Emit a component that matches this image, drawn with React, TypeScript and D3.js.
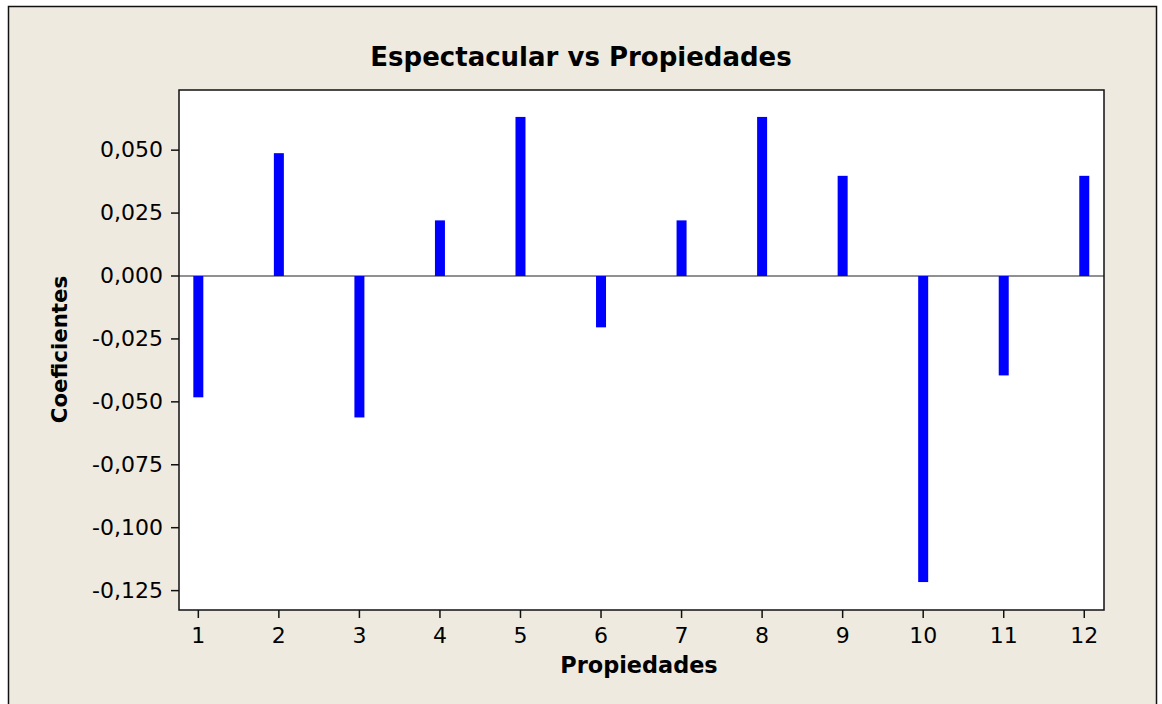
import React from "react";
import * as d3 from "d3";

const categories = [1, 2, 3, 4, 5, 6, 7, 8, 9, 10, 11, 12];
const coefficients = [-0.0482, 0.0488, -0.0562, 0.0221, 0.0632, -0.0204, 0.0221, 0.0632, 0.0398, -0.1216, -0.0395, 0.0398];
const yTicks = [0.05, 0.025, 0, -0.025, -0.05, -0.075, -0.1, -0.125];
const title = "Espectacular vs Propiedades";
const xTitle = "Propiedades";
const yTitle = "Coeficientes";

const W = 1162;
const H = 704;
const plot = { left: 179, top: 90, right: 1104, bottom: 610 };
const font = "'DejaVu Sans', Verdana, sans-serif";

export default function App() {
  const x = d3.scaleLinear().domain([0.76, 12.245]).range([plot.left, plot.right]);
  const y = d3.scaleLinear().domain([-0.1327, 0.0739]).range([plot.bottom, plot.top]);
  const fmt = (v: number) => d3.format(".3f")(v).replace(".", ",").replace("−", "-");
  const barW = 10;
  return (
    <svg width={W} height={H} style={{ position: "absolute", left: 0, top: 0 }} fontFamily={font}>
      <rect x={0} y={0} width={W} height={H} fill="#ffffff" />
      <rect x={8.5} y={6.5} width={1148} height={710} fill="#EEEAE0" stroke="#111" strokeWidth={1.5} />
      <rect x={plot.left} y={plot.top} width={plot.right - plot.left} height={plot.bottom - plot.top} fill="#ffffff" />
      <line x1={plot.left} x2={plot.right} y1={y(0)} y2={y(0)} stroke="#222" strokeWidth={1} />
      {categories.map((c, i) => {
        const v = coefficients[i];
        const y0 = y(Math.max(0, v));
        const y1 = y(Math.min(0, v));
        return <rect key={c} x={x(c) - barW / 2} y={y0} width={barW} height={y1 - y0} fill="#0000FF" />;
      })}
      <rect x={plot.left} y={plot.top} width={plot.right - plot.left} height={plot.bottom - plot.top} fill="none" stroke="#111" strokeWidth={1.5} />
      {yTicks.map((t) => (
        <g key={t}>
          <line x1={plot.left - 8} x2={plot.left} y1={y(t)} y2={y(t)} stroke="#111" strokeWidth={1.5} />
          <text x={plot.left - 16} y={y(t)} dy="0.32em" textAnchor="end" fontSize={22} fill="#000">
            {fmt(t)}
          </text>
        </g>
      ))}
      {categories.map((c) => (
        <g key={c}>
          <line x1={x(c)} x2={x(c)} y1={plot.bottom} y2={plot.bottom + 8} stroke="#111" strokeWidth={1.5} />
          <text x={x(c)} y={plot.bottom + 33} textAnchor="middle" fontSize={22} fill="#000">
            {c}
          </text>
        </g>
      ))}
      <text x={581} y={66} textAnchor="middle" fontSize={26} fontWeight="bold" fill="#000">
        {title}
      </text>
      <text x={639} y={673} textAnchor="middle" fontSize={22.4} fontWeight="bold" fill="#000">
        {xTitle}
      </text>
      <text transform={`translate(67,349.5) rotate(-90)`} textAnchor="middle" fontSize={21.3} fontWeight="bold" fill="#000">
        {yTitle}
      </text>
    </svg>
  );
}
